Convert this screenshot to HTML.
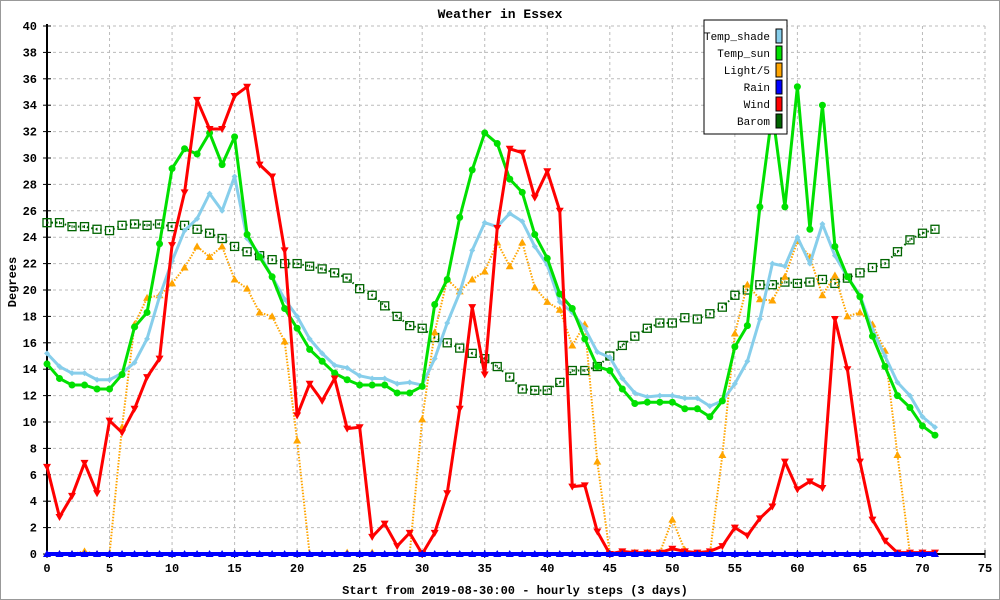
<!DOCTYPE html>
<html><head><meta charset="utf-8"><style>
html,body{margin:0;padding:0;background:#fff}
svg{display:block;font-family:"Liberation Mono",monospace}
</style></head><body>
<svg id="chart" width="1000" height="600" viewBox="0 0 1000 600" xmlns="http://www.w3.org/2000/svg">
<rect x="0.5" y="0.5" width="999" height="599" fill="#fff" stroke="#999" stroke-width="1"/>
<text x="500" y="18" text-anchor="middle" font-size="13" font-weight="bold">Weather in Essex</text>
<g id="grid"></g>
<g id="axes"></g>
<g id="series"></g>
<text x="515" y="594" text-anchor="middle" font-size="12" font-weight="bold">Start from 2019-08-30:00 - hourly steps (3 days)</text>
<text transform="translate(16,282) rotate(-90)" text-anchor="middle" font-size="12" font-weight="bold">Degrees</text>
<g id="legend"></g>
</svg>
<script>
const hours = Array.from({length:72},(_,i)=>i);
const xTicks = [0,5,10,15,20,25,30,35,40,45,50,55,60,65,70,75];
const yTicks = [0,2,4,6,8,10,12,14,16,18,20,22,24,26,28,30,32,34,36,38,40];
const tempShade = [15.2,14.2,13.7,13.7,13.2,13.2,13.7,14.5,16.3,19.5,22.2,24.5,25.4,27.3,26.0,28.6,23.9,22.7,21.0,19.3,18.0,16.3,15.2,14.3,14.1,13.5,13.3,13.3,12.9,13.0,12.8,14.8,17.5,19.8,23.0,25.1,24.8,25.8,25.2,23.3,21.9,19.1,18.3,17.1,15.3,14.9,13.3,12.2,11.9,12.0,12.0,11.8,11.8,11.2,11.6,12.9,14.6,17.8,22.0,21.8,24.0,22.0,25.0,22.6,21.0,19.6,17.0,15.0,13.0,12.0,10.4,9.6];
const tempSun = [14.4,13.3,12.8,12.8,12.5,12.5,13.6,17.2,18.3,23.5,29.2,30.7,30.3,31.9,29.5,31.6,24.2,22.5,21.0,18.6,17.1,15.5,14.6,13.7,13.2,12.8,12.8,12.8,12.2,12.2,12.7,18.9,20.8,25.5,29.1,31.9,31.1,28.4,27.4,24.2,22.4,19.7,18.6,16.3,14.2,13.9,12.5,11.4,11.5,11.5,11.5,11.0,11.0,10.4,11.6,15.7,17.3,26.3,33.5,26.3,35.4,24.6,34.0,23.3,21.0,19.5,16.5,14.2,12.0,11.1,9.7,9.0];
const light = [0,0,0,0.2,0,0,9.6,17.4,19.4,19.6,20.5,21.7,23.3,22.5,23.3,20.8,20.1,18.3,18.0,16.1,8.6,0,0,0,0.1,0,0.1,0,0,0,10.2,16.8,20.8,19.9,20.8,21.4,23.6,21.8,23.6,20.2,19.1,18.5,15.8,17.4,7.0,0,0.1,0.1,0.1,0.1,2.6,0.3,0,0,7.5,16.7,20.4,19.3,19.2,21.0,23.7,22.5,19.6,21.1,18.0,18.3,17.4,15.4,7.5,0,0,0];
const rain = Array(72).fill(0);
const wind = [6.6,2.8,4.4,6.9,4.6,10.1,9.2,11.0,13.4,14.8,23.4,27.4,34.4,32.2,32.2,34.7,35.4,29.5,28.6,23.0,10.5,12.9,11.6,13.3,9.5,9.6,1.3,2.3,0.6,1.6,0,1.6,4.6,11.0,18.7,13.6,24.7,30.7,30.4,27.0,29.0,26.0,5.1,5.2,1.7,0,0.2,0.1,0.1,0.1,0.4,0.2,0.1,0.2,0.6,2.0,1.4,2.7,3.6,7.0,4.9,5.5,5.0,17.8,14.0,7.0,2.6,1.0,0.1,0.1,0.1,0.1];
const barom = [25.1,25.1,24.8,24.8,24.6,24.5,24.9,25.0,24.9,25.0,24.8,24.9,24.6,24.3,23.9,23.3,22.9,22.6,22.3,22.0,22.0,21.8,21.6,21.3,20.9,20.1,19.6,18.8,18.0,17.3,17.1,16.4,16.0,15.6,15.2,14.8,14.2,13.4,12.5,12.4,12.4,13.0,13.9,13.9,14.2,15.0,15.8,16.5,17.1,17.5,17.5,17.9,17.8,18.2,18.7,19.6,20.0,20.4,20.4,20.6,20.5,20.6,20.8,20.5,20.9,21.3,21.7,22.0,22.9,23.8,24.3,24.6];
const seriesNames = ["Temp_shade","Temp_sun","Light/5","Rain","Wind","Barom"];

const NS="http://www.w3.org/2000/svg";
const X0=47,X1=985,Y0=554,Y1=26;
const xs=v=>X0+(X1-X0)*v/75;
const ys=v=>Y0-(Y0-Y1)*v/40;
function mk(tag,attrs,parent){const e=document.createElementNS(NS,tag);for(const k in attrs)e.setAttribute(k,attrs[k]);parent.appendChild(e);return e;}
const grid=document.getElementById('grid'),axes=document.getElementById('axes'),ser=document.getElementById('series'),leg=document.getElementById('legend');
yTicks.forEach(t=>{
  if(t>0){const g=mk('line',{x1:X0,x2:X1,y1:ys(t),y2:ys(t),stroke:'#bbb','stroke-dasharray':'3,3'},grid);
  
  }
  const tk=mk('line',{x1:X0-4,x2:X0+4,y1:ys(t),y2:ys(t),stroke:'#000'},axes);
  
  
  const l=mk('text',{x:X0-10,y:ys(t)+4,'text-anchor':'end','font-size':'12','font-weight':'bold'},axes);l.textContent=t;
  
  
});
xTicks.forEach(t=>{
  if(t>0){const g=mk('line',{x1:xs(t),x2:xs(t),y1:Y1,y2:Y0,stroke:'#bbb','stroke-dasharray':'3,3'},grid);
  
  }
  const tk=mk('line',{x1:xs(t),x2:xs(t),y1:Y0-4,y2:Y0+4,stroke:'#000'},axes);
  
  
  const l=mk('text',{x:xs(t),y:Y0+18,'text-anchor':'middle','font-size':'12','font-weight':'bold'},axes);l.textContent=t;
  
  
});
const ya=mk('line',{x1:X0,x2:X0,y1:Y1-2,y2:Y0,stroke:'#000','stroke-width':2},axes);


const xa=mk('line',{x1:X0,x2:X1,y1:Y0,y2:Y0,stroke:'#000','stroke-width':2},axes);



function marker(kind,x,y,color,g){
  if(kind==='circle')return mk('circle',{cx:x,cy:y,r:3.5,fill:color},g);
  if(kind==='up')return mk('polygon',{points:`${x-4},${y+3} ${x+4},${y+3} ${x},${y-4}`,fill:color},g);
  if(kind==='down')return mk('polygon',{points:`${x-4},${y-3} ${x+4},${y-3} ${x},${y+4}`,fill:color},g);
  if(kind==='square'){mk('rect',{x:x-4,y:y-4,width:8,height:8,fill:'none',stroke:color,'stroke-width':1.3},g);return mk('rect',{x:x-0.5,y:y-1.5,width:1,height:3,fill:color},g);}
  if(kind==='star')return mk('polygon',{points:`${x-3},${y} ${x},${y-3} ${x+3},${y} ${x},${y+3}`,fill:color},g);
  return mk('rect',{x:x-3,y:y-3,width:6,height:6,fill:color},g);
}
function drawSeries(name,data,color,width,dash,kind){
  const g=mk('g',{},ser);
  
  
  const pts=data.map((v,i)=>xs(hours[i])+','+ys(v)).join(' ');
  const p=mk('polyline',{points:pts,fill:'none',stroke:color,'stroke-width':width,'stroke-linejoin':'round'},g);
  if(dash)p.setAttribute('stroke-dasharray',dash);
  
  
  data.forEach((v,i)=>{const m=marker(kind,xs(hours[i]),ys(v),color,g);
    
    });
}
drawSeries('Barom',barom,'#006400',2,'1.5,3','square');
drawSeries('Light',light,'#ffa500',2,'1.5,1.5','up');
drawSeries('Temp_shade',tempShade,'#87ceeb',3,null,'star');
drawSeries('Temp_sun',tempSun,'#00e000',3,null,'circle');
drawSeries('Wind',wind,'#ff0000',3,null,'down');
drawSeries('Rain',rain,'#0000ff',4,null,'up');

// legend
const lb=mk('rect',{x:704,y:20,width:83,height:114,fill:'#fff',stroke:'#000'},leg);


const legColors=['#87ceeb','#00e000','#ffa500','#0000ff','#ff0000','#006400'];
seriesNames.forEach((n,i)=>{
  const y=36+i*17;
  const t=mk('text',{x:770,y:y+4,'text-anchor':'end','font-size':'11'},leg);t.textContent=n;
  
  
  const s=mk('rect',{x:776,y:y-7,width:6,height:14,fill:legColors[i],stroke:'#000'},leg);
  
  
});
</script>
</body></html>
